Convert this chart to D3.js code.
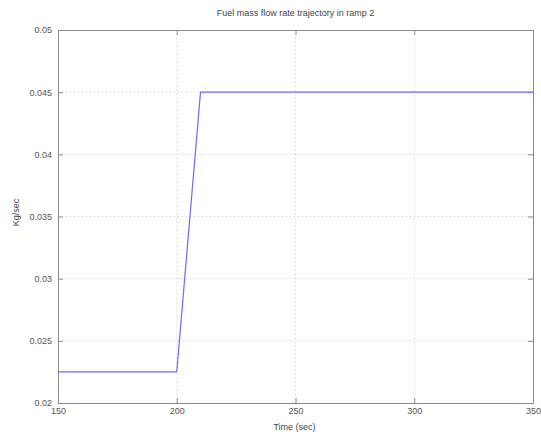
<!DOCTYPE html>
<html>
<head>
<meta charset="utf-8">
<script src="https://cdn.jsdelivr.net/npm/d3@7"></script>
<style>
  html, body { margin: 0; padding: 0; background: #fff; }
  svg { display: block; font-family: "Liberation Sans", Arial, sans-serif; }
</style>
</head>
<body>
<svg id="chart" width="541" height="432"></svg>
<script>
// Fuel mass flow rate command for ramp 2
const timeSec = [150, 200, 210, 350];
const flowKgPerSec = [0.0225, 0.0225, 0.045, 0.045];

const xTicks = [150, 200, 250, 300, 350];
const yTicks = [0.02, 0.025, 0.03, 0.035, 0.04, 0.045, 0.05];
const yTickLabels = ["0.02", "0.025", "0.03", "0.035", "0.04", "0.045", "0.05"];

const titleText = "Fuel mass flow rate trajectory in ramp 2";
const xLabel = "Time (sec)";
const yLabel = "Kg/sec";

const svg = d3.select("#chart");
const margin = { left: 58, right: 8, top: 30, bottom: 29 };
const W = 541, H = 432;
const plotW = W - margin.left - margin.right;
const plotH = H - margin.top - margin.bottom;

const x = d3.scaleLinear().domain([150, 350]).range([0, plotW]);
const y = d3.scaleLinear().domain([0.02, 0.05]).range([plotH, 0]);

const g = svg.append("g").attr("transform", `translate(${margin.left},${margin.top})`);

// dotted grid
g.append("g").selectAll("line").data(xTicks.slice(1, -1)).join("line")
  .attr("x1", d => x(d)).attr("x2", d => x(d))
  .attr("y1", 0).attr("y2", plotH)
  .attr("stroke", "#c8c8c8").attr("stroke-width", 1)
  .attr("stroke-dasharray", "1,3");
g.append("g").selectAll("line").data(yTicks.slice(1, -1)).join("line")
  .attr("x1", 0).attr("x2", plotW)
  .attr("y1", d => y(d)).attr("y2", d => y(d))
  .attr("stroke", "#c8c8c8").attr("stroke-width", 1)
  .attr("stroke-dasharray", "1,3");

// axes with inward ticks
const axisColor = "#8a8a8a";
const xAxis = g.append("g").attr("transform", `translate(0,${plotH})`)
  .call(d3.axisBottom(x).tickValues(xTicks).tickSizeInner(-5).tickSizeOuter(0).tickPadding(5).tickFormat(d3.format("d")));
const xAxisTop = g.append("g")
  .call(d3.axisTop(x).tickValues(xTicks).tickSizeInner(-5).tickSizeOuter(0).tickFormat(""));
const yAxis = g.append("g")
  .call(d3.axisLeft(y).tickValues(yTicks).tickSizeInner(-5).tickSizeOuter(0).tickPadding(6)
    .tickFormat((d, i) => yTickLabels[i]));
const yAxisRight = g.append("g").attr("transform", `translate(${plotW},0)`)
  .call(d3.axisRight(y).tickValues(yTicks).tickSizeInner(-5).tickSizeOuter(0).tickFormat(""));

[xAxis, xAxisTop, yAxis, yAxisRight].forEach(a => {
  a.select(".domain").attr("stroke", axisColor);
  a.selectAll(".tick line").attr("stroke", axisColor);
  a.selectAll("text").attr("fill", "#555").style("font-size", "9px")
    .style("font-family", "'Liberation Sans', Arial, sans-serif");
});

// data line
const line = d3.line().x((d, i) => x(timeSec[i])).y(d => y(d));
g.append("path").datum(flowKgPerSec)
  .attr("d", line)
  .attr("fill", "none")
  .attr("stroke", "#6b6bff")
  .attr("stroke-width", 1.2);

// title and labels
svg.append("text").attr("x", margin.left + plotW / 2).attr("y", 16)
  .attr("text-anchor", "middle").attr("fill", "#444").style("font-size", "9px")
  .text(titleText);
svg.append("text").attr("x", margin.left + plotW / 2 - 1).attr("y", 430)
  .attr("text-anchor", "middle").attr("fill", "#444").style("font-size", "9px")
  .text(xLabel);
svg.append("text")
  .attr("transform", `translate(19,${margin.top + plotH / 2 - 4}) rotate(-90)`)
  .attr("text-anchor", "middle").attr("fill", "#444").style("font-size", "9px")
  .text(yLabel);
</script>
</body>
</html>
